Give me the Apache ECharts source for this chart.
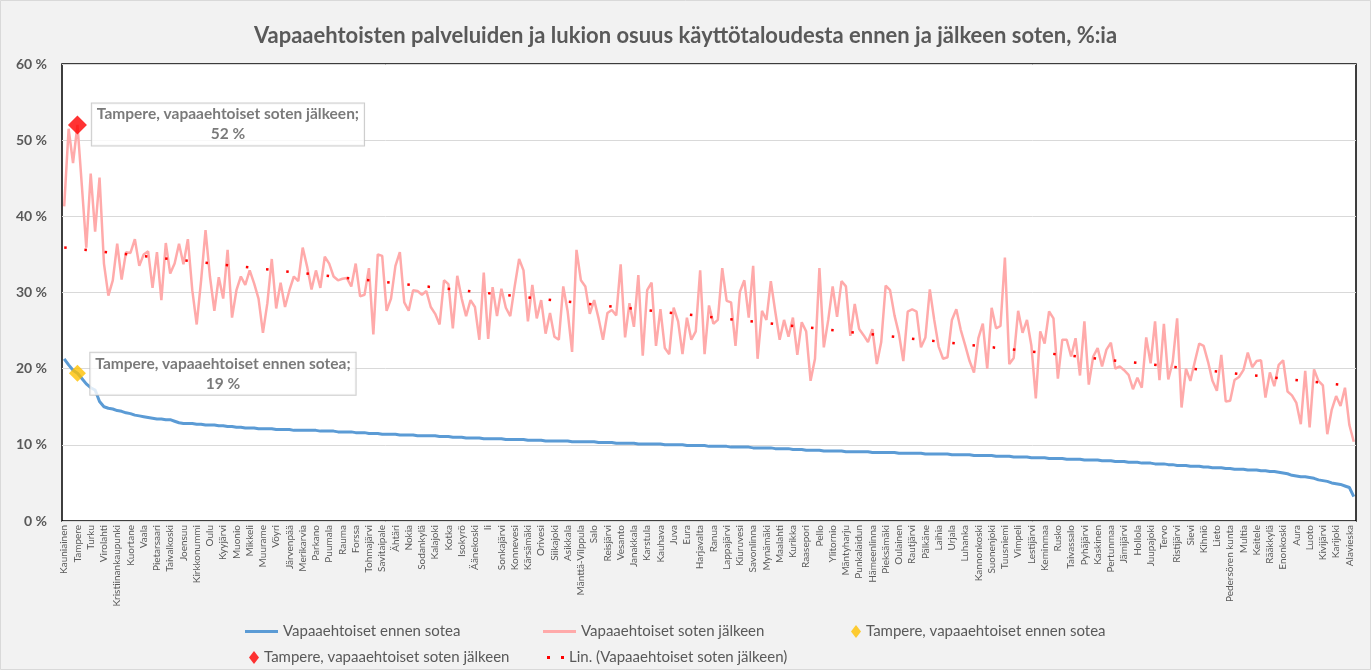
<!DOCTYPE html>
<html>
<head>
<meta charset="utf-8">
<script src="https://cdn.jsdelivr.net/npm/echarts@6/dist/echarts.min.js"></script>
<style>
  html, body { margin: 0; padding: 0; background: #f2f2f2; }
  #chart { width: 1371px; height: 670px; }
</style>
</head>
<body>
<div id="chart"></div>
<script>
// municipalities shown on the axis (every third category)
const labeledTowns = [
  'Kauniainen', 'Tampere', 'Turku', 'Virolahti', 'Kristiinankaupunki', 'Kuortane', 'Vaala', 'Pietarsaari',
  'Taivalkoski', 'Joensuu', 'Kirkkonummi', 'Oulu', 'Kyyjärvi', 'Muonio', 'Mikkeli', 'Muurame', 'Vöyri',
  'Järvenpää', 'Merikarvia', 'Parkano', 'Puumala', 'Rauma', 'Forssa', 'Tohmajärvi', 'Savitaipale', 'Ähtäri',
  'Nokia', 'Sodankylä', 'Kalajoki', 'Kotka', 'Isokyrö', 'Äänekoski', 'Ii', 'Sonkajärvi', 'Konnevesi',
  'Kärsämäki', 'Orivesi', 'Siikajoki', 'Asikkala', 'Mänttä-Vilppula', 'Salo', 'Reisjärvi', 'Vesanto',
  'Janakkala', 'Karstula', 'Kauhava', 'Juva', 'Eura', 'Harjavalta', 'Ranua', 'Lappajärvi', 'Kiuruvesi',
  'Savonlinna', 'Mynämäki', 'Maalahti', 'Kurikka', 'Raasepori', 'Pello', 'Ylitornio', 'Mäntyharju',
  'Punkalaidun', 'Hämeenlinna', 'Pieksämäki', 'Oulainen', 'Rautjärvi', 'Pälkäne', 'Laihia', 'Urjala',
  'Luhanka', 'Kannonkoski', 'Suonenjoki', 'Tuusniemi', 'Vimpeli', 'Lestijärvi', 'Keminmaa', 'Rusko',
  'Taivassalo', 'Pyhäjärvi', 'Kaskinen', 'Pertunmaa', 'Jämijärvi', 'Hollola', 'Juupajoki', 'Tervo',
  'Ristijärvi', 'Sievi', 'Kihniö', 'Lieto', 'Pedersören kunta', 'Multia', 'Keitele', 'Rääkkylä',
  'Enonkoski', 'Aura', 'Luoto', 'Kivijärvi', 'Karijoki', 'Alavieska'
]

// Vapaaehtoiset ennen sotea, %
const before = [
  21.3, 20.5, 19.8, 19.4, 18.7, 18.0, 17.5, 17.2, 15.7, 15.0,
  14.8, 14.7, 14.5, 14.4, 14.2, 14.1, 13.9, 13.8, 13.7, 13.6,
  13.5, 13.4, 13.4, 13.3, 13.3, 13.1, 12.9, 12.8, 12.8, 12.8,
  12.7, 12.7, 12.6, 12.6, 12.6, 12.5, 12.5, 12.4, 12.4, 12.3,
  12.3, 12.2, 12.2, 12.2, 12.1, 12.1, 12.1, 12.1, 12.0, 12.0,
  12.0, 12.0, 11.9, 11.9, 11.9, 11.9, 11.9, 11.9, 11.8, 11.8,
  11.8, 11.8, 11.7, 11.7, 11.7, 11.7, 11.6, 11.6, 11.6, 11.5,
  11.5, 11.5, 11.4, 11.4, 11.4, 11.4, 11.3, 11.3, 11.3, 11.3,
  11.2, 11.2, 11.2, 11.2, 11.2, 11.1, 11.1, 11.1, 11.0, 11.0,
  11.0, 10.9, 10.9, 10.9, 10.9, 10.8, 10.8, 10.8, 10.8, 10.8,
  10.7, 10.7, 10.7, 10.7, 10.7, 10.6, 10.6, 10.6, 10.6, 10.5,
  10.5, 10.5, 10.5, 10.5, 10.5, 10.4, 10.4, 10.4, 10.4, 10.4,
  10.4, 10.3, 10.3, 10.3, 10.3, 10.2, 10.2, 10.2, 10.2, 10.2,
  10.1, 10.1, 10.1, 10.1, 10.1, 10.1, 10.0, 10.0, 10.0, 10.0,
  10.0, 9.9, 9.9, 9.9, 9.9, 9.9, 9.8, 9.8, 9.8, 9.8,
  9.8, 9.7, 9.7, 9.7, 9.7, 9.7, 9.6, 9.6, 9.6, 9.6,
  9.6, 9.5, 9.5, 9.5, 9.5, 9.4, 9.4, 9.4, 9.3, 9.3,
  9.3, 9.3, 9.2, 9.2, 9.2, 9.2, 9.2, 9.1, 9.1, 9.1,
  9.1, 9.1, 9.1, 9.0, 9.0, 9.0, 9.0, 9.0, 9.0, 8.9,
  8.9, 8.9, 8.9, 8.9, 8.9, 8.8, 8.8, 8.8, 8.8, 8.8,
  8.8, 8.7, 8.7, 8.7, 8.7, 8.7, 8.6, 8.6, 8.6, 8.6,
  8.6, 8.5, 8.5, 8.5, 8.5, 8.4, 8.4, 8.4, 8.4, 8.3,
  8.3, 8.3, 8.3, 8.2, 8.2, 8.2, 8.2, 8.1, 8.1, 8.1,
  8.1, 8.0, 8.0, 8.0, 8.0, 7.9, 7.9, 7.9, 7.8, 7.8,
  7.8, 7.7, 7.7, 7.7, 7.6, 7.6, 7.6, 7.5, 7.5, 7.5,
  7.4, 7.4, 7.3, 7.3, 7.3, 7.2, 7.2, 7.2, 7.1, 7.1,
  7.0, 7.0, 7.0, 6.9, 6.9, 6.8, 6.8, 6.8, 6.7, 6.7,
  6.7, 6.6, 6.6, 6.5, 6.5, 6.4, 6.3, 6.2, 6.0, 5.9,
  5.8, 5.8, 5.7, 5.6, 5.4, 5.3, 5.2, 5.0, 4.9, 4.8,
  4.6, 4.4, 3.2
]

// Vapaaehtoiset soten jälkeen, %
const after = [
  41.3, 51.5, 47.0, 52.0, 44.0, 35.9, 45.6, 38.0, 45.1, 33.8,
  29.6, 31.6, 36.4, 31.7, 35.3, 35.2, 37.0, 33.5, 35.0, 35.4,
  30.6, 35.3, 29.0, 36.5, 32.5, 33.8, 36.4, 33.7, 37.0, 30.3,
  25.8, 31.6, 38.2, 32.1, 27.6, 32.0, 29.2, 35.6, 26.7, 30.3,
  32.1, 31.0, 32.9, 31.2, 29.2, 24.7, 28.6, 34.4, 27.9, 31.3,
  28.1, 30.3, 32.1, 31.5, 35.9, 33.4, 30.4, 32.9, 30.6, 34.7,
  33.8, 32.1, 31.6, 31.8, 31.9, 30.8, 33.8, 29.5, 29.7, 33.2,
  24.5, 35.0, 34.8, 27.6, 29.2, 33.5, 35.3, 28.7, 27.6, 30.3,
  30.2, 29.7, 30.2, 28.1, 27.2, 25.8, 31.6, 31.1, 25.3, 32.2,
  29.2, 26.9, 29.0, 28.1, 23.8, 32.6, 23.9, 30.7, 26.9, 30.5,
  28.0, 26.9, 30.8, 34.4, 32.9, 26.2, 31.0, 26.6, 29.0, 24.6,
  27.3, 24.2, 23.8, 30.8, 27.5, 22.2, 35.6, 31.6, 30.8, 27.2,
  29.0, 26.6, 23.8, 27.3, 27.7, 27.0, 33.7, 24.1, 28.6, 25.5,
  32.3, 21.7, 30.3, 31.3, 23.0, 27.8, 22.7, 21.9, 28.0, 26.2,
  21.9, 26.7, 23.8, 24.9, 32.9, 21.9, 28.3, 25.9, 26.4, 33.2,
  28.9, 28.7, 23.0, 30.1, 31.6, 26.7, 33.5, 21.3, 27.6, 26.4,
  31.5, 27.5, 23.8, 26.4, 24.2, 26.7, 21.8, 26.1, 24.9, 18.4,
  21.3, 33.2, 22.8, 26.4, 30.8, 26.8, 31.5, 30.8, 24.3, 28.5,
  25.2, 24.4, 23.5, 25.2, 20.6, 23.5, 30.9, 30.3, 27.0, 24.6,
  21.0, 27.5, 27.8, 27.5, 22.8, 24.1, 30.4, 26.4, 22.9, 21.3,
  21.5, 26.4, 27.8, 25.1, 23.1, 21.0, 19.5, 24.0, 25.9, 20.0,
  28.0, 25.3, 25.6, 34.6, 20.6, 21.4, 27.6, 24.7, 26.4, 23.0,
  16.1, 24.9, 23.3, 27.5, 26.6, 18.7, 23.8, 23.8, 21.6, 24.0,
  19.1, 26.2, 17.9, 21.6, 22.7, 20.3, 22.5, 23.4, 20.0, 20.3,
  19.8, 19.2, 17.3, 18.8, 17.5, 24.1, 20.7, 26.2, 18.5, 25.9,
  18.6, 20.9, 26.6, 14.9, 20.0, 18.4, 20.9, 23.3, 23.0, 20.9,
  18.4, 17.1, 21.8, 15.7, 15.8, 18.5, 18.9, 19.8, 22.1, 20.2,
  21.0, 21.1, 16.2, 19.5, 17.7, 20.5, 21.1, 17.0, 16.5, 15.5,
  12.7, 19.7, 12.3, 19.9, 18.4, 17.8, 11.4, 14.6, 16.4, 15.1,
  17.5, 12.6, 10.4
]

// Excel linear trend of "after", ends
const trendStart = 35.9
const trendEnd = 17.7

const tampereIndex = 3
const seriesNames = [
  'Vapaaehtoiset ennen sotea',
  'Vapaaehtoiset soten jälkeen',
  'Tampere, vapaaehtoiset ennen sotea',
  'Tampere, vapaaehtoiset soten jälkeen',
  'Lin. (Vapaaehtoiset soten jälkeen)'
]

const n = before.length
const categories = before.map((_, i) => (i % 3 === 0 ? labeledTowns[i / 3] || '' : ''))
const trendData = before.map((_, i) => (i === 0 ? trendStart : i === n - 1 ? trendEnd : null))

const txt = '#595959'
const font = 'Lato'

// legend glyphs drawn like Excel's
const lineIcon = 'path://M0 0H33V3H0Z'
const dotsIcon = 'path://M0 0H3V3H0Z M14 0H17V3H14Z'

function calloutLabel(offset) {
  return {
    show: true,
    position: offset,
    align: 'center',
    verticalAlign: 'middle',
    formatter: p => p.seriesName + ';\n' + Math.round(p.value[1]) + ' %',
    fontFamily: font,
    fontWeight: 'bold',
    fontSize: 15.5,
    lineHeight: 20,
    color: txt,
    backgroundColor: '#fff',
    borderColor: '#bfbfbf',
    borderWidth: 1,
    padding: [1, 5],
  }
}

function legendAt(name, icon, w, h, left, top) {
  return {
    data: [{ name, icon }],
    left, top,
    itemWidth: w,
    itemHeight: h,
    itemGap: 0,
    textStyle: { fontFamily: font, fontSize: 15, color: txt },
    selectedMode: false,
  }
}

const chart = echarts.init(document.getElementById('chart'))
chart.setOption({
  animation: false,
  backgroundColor: '#f2f2f2',
  textStyle: { fontFamily: font },
  title: {
    text: 'Vapaaehtoisten palveluiden ja lukion osuus käyttötaloudesta ennen ja jälkeen soten, %:ia',
    left: 'center',
    top: 20,
    textStyle: { fontFamily: font, fontSize: 22, fontWeight: 'bold', color: txt },
  },
  legend: [
    legendAt(seriesNames[0], lineIcon, 33, 3, 240, 619),
    legendAt(seriesNames[1], lineIcon, 33, 3, 538, 619),
    legendAt(seriesNames[2], 'diamond', 10, 13, 846, 619),
    legendAt(seriesNames[3], 'diamond', 10, 13, 244, 645),
    legendAt(seriesNames[4], dotsIcon, 17, 3, 542, 645),
  ],
  grid: {
    left: 62, right: 15, top: 64, bottom: 149,
    show: true,
    backgroundColor: '#fff',
    borderColor: '#000',
    borderWidth: 1.5,
    outerBoundsMode: 'none',
  },
  xAxis: {
    type: 'category',
    data: categories,
    boundaryGap: true,
    axisLine: { show: false },
    axisTick: { show: false },
    axisLabel: { interval: 2, rotate: 90, fontSize: 10, margin: 4, color: txt, fontFamily: font },
  },
  yAxis: {
    type: 'value',
    min: 0, max: 60, interval: 10,
    axisLine: { show: false },
    axisTick: { show: false },
    axisLabel: { formatter: '{value} %', fontSize: 14, fontWeight: 'bold', color: txt, margin: 15, fontFamily: font },
    splitLine: { lineStyle: { color: '#d9d9d9', width: 1 } },
  },
  series: [
    {
      name: seriesNames[0],
      type: 'line',
      data: before,
      symbol: 'none',
      lineStyle: { color: '#5b9bd5', width: 3 },
      itemStyle: { color: '#5b9bd5' },
      z: 2,
    },
    {
      name: seriesNames[1],
      type: 'line',
      data: after,
      symbol: 'none',
      lineStyle: { color: '#ffaaaa', width: 2.5 },
      itemStyle: { color: '#ffaaaa' },
      z: 3,
    },
    {
      name: seriesNames[2],
      type: 'scatter',
      data: [[tampereIndex, before[tampereIndex]]],
      symbol: 'diamond',
      symbolSize: 17,
      itemStyle: { color: '#ffc000' },
      label: calloutLabel([154, 9]),
      z: 5,
    },
    {
      name: seriesNames[3],
      type: 'scatter',
      data: [[tampereIndex, after[tampereIndex]]],
      symbol: 'diamond',
      symbolSize: 19,
      itemStyle: { color: '#ff0000' },
      label: calloutLabel([160, 9]),
      z: 5,
    },
    {
      name: seriesNames[4],
      type: 'line',
      data: trendData,
      connectNulls: true,
      symbol: 'none',
      lineStyle: { color: '#ff0000', width: 2.5, type: [2.5, 17.8] },
      itemStyle: { color: '#ff0000' },
      z: 4,
    },
  ],
  graphic: [{
    type: 'rect',
    shape: { x: 0.5, y: 0.5, width: 1370, height: 669 },
    style: { fill: null, stroke: '#d9d9d9', lineWidth: 1 },
    silent: true,
  }],
})
</script>
</body>
</html>
